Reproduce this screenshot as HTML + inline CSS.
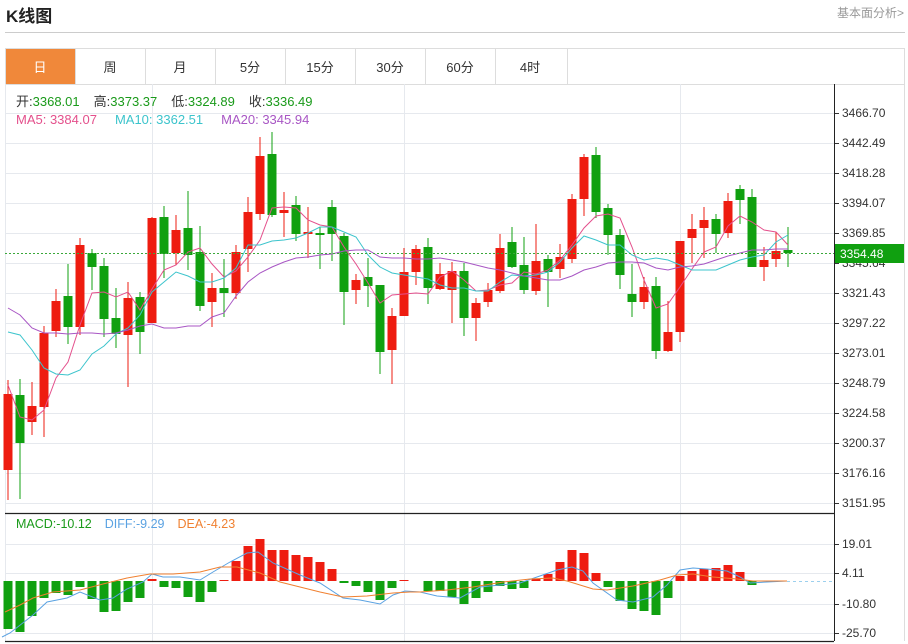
<!DOCTYPE html>
<html><head><meta charset="utf-8"><style>
body{margin:0;background:#fff;width:908px;height:644px;overflow:hidden;font-family:"Liberation Sans","Noto Sans CJK SC",sans-serif;}
.t{position:absolute;}
</style></head><body>
<div class="t" style="left:6px;top:2px;font-size:17px;font-weight:bold;color:#222;">K线图</div>
<div class="t" style="right:4px;top:4px;font-size:12px;color:#999;">基本面分析&gt;</div>
<div class="t" style="left:5px;top:32px;width:900px;height:1px;background:#ccc;"></div>
<svg id="s" width="908" height="644" style="position:absolute;left:0;top:0" xmlns="http://www.w3.org/2000/svg"></svg>
<script>
var S=document.getElementById('s'),h='';
function R(x,y,w,hh,f){h+='<rect x="'+x+'" y="'+y+'" width="'+w+'" height="'+hh+'" fill="'+f+'"/>';}
function L(x1,y1,x2,y2,c,w,d){h+='<line x1="'+x1+'" y1="'+y1+'" x2="'+x2+'" y2="'+y2+'" stroke="'+c+'" stroke-width="'+(w||1)+'"'+(d?' stroke-dasharray="'+d+'"':'')+'/>';}
function T(x,y,s,c,sz,a){h+='<text x="'+x+'" y="'+y+'" fill="'+c+'" font-size="'+(sz||12)+'"'+(a?' text-anchor="'+a+'"':'')+'>'+s+'</text>';}
R(5,48,900,36,'#fff');
h+='<rect x="5.5" y="48.5" width="899" height="36" fill="none" stroke="#ddd"/>';
R(6,49,69,35,'#f0883a');
var tabs=['日','周','月','5分','15分','30分','60分','4时'];
for(var i=0;i<8;i++){var x=5+70*i;if(i>0)L(x+0.5,49,x+0.5,84,'#ddd');T(x+35,72,tabs[i],i==0?'#fff':'#333',13,'middle');}
L(567.5,49,567.5,84,'#ddd');
var ys=[113,143,173,203,233,263,293,323,353,383,413,443,473,503];
var lab=['3466.70','3442.49','3418.28','3394.07','3369.85','3345.64','3321.43','3297.22','3273.01','3248.79','3224.58','3200.37','3176.16','3151.95'];
for(i=0;i<ys.length;i++){L(5,ys[i]+.5,834,ys[i]+.5,'#e6e9ee');L(834,ys[i]+.5,839,ys[i]+.5,'#333');T(842,ys[i]+4,lab[i],'#333',12);}
[152,404,680].forEach(function(x){L(x+.5,84,x+.5,641,'#e6e9ee');});
L(5.5,84,5.5,641,'#e6e9ee');
var my=[544,573,604,633],ml=['19.01','4.11','-10.80','-25.70'];
for(i=0;i<4;i++){L(5,my[i]+.5,834,my[i]+.5,'#e6e9ee');L(834,my[i]+.5,839,my[i]+.5,'#333');T(842,my[i]+4,ml[i],'#333',12);}
L(904.5,84,904.5,641,'#ddd');
var C=[['r',394,470,380,500],['g',395,443,379,499],['r',406,422,382,435],['r',333,407,326,437],['r',301,331,289,337],['g',296,327,264,344],['r',245,327,238,335],['g',253,267,249,290],['g',266,319,258,337],['g',318,334,288,348],['r',298,335,282,387],['g',297,332,292,354],['r',218,323,217,323],['g',217,254,206,278],['r',230,253,215,265],['g',228,255,191,270],['g',252,306,226,311],['r',288,302,273,327],['g',288,293,259,317],['r',252,293,245,299],['r',212,249,197,272],['r',156,214,137,220],['g',154,215,132,217],['r',210,213,192,237],['g',205,234,196,241],['r',232,234,207,258],['g',233,235,227,269],['g',207,234,200,261],['g',236,292,233,325],['r',280,290,274,304],['g',277,286,258,307],['g',285,352,285,374],['r',316,350,308,384],['r',272,316,248,316],['r',249,272,245,285],['g',247,288,238,304],['r',274,289,263,290],['r',271,290,262,323],['g',271,318,263,336],['r',303,318,298,341],['r',290,302,283,307],['r',248,291,234,293],['g',242,267,227,268],['g',265,290,237,294],['r',261,291,224,295],['g',259,272,255,307],['r',257,269,244,278],['r',199,259,194,263],['r',157,199,154,216],['g',155,212,147,218],['g',208,235,204,255],['g',235,275,229,289],['g',294,302,264,317],['r',287,302,277,309],['g',286,351,277,359],['r',332,351,301,352],['r',241,332,241,342],['r',229,238,214,263],['r',220,228,207,258],['g',219,234,214,253],['r',201,233,193,238],['g',189,200,185,224],['g',197,267,189,267],['r',260,267,247,281],['r',251,259,232,267],['g',250,253,227,267]];
var RC='#ee1c10',GC='#10a010';
for(i=0;i<C.length;i++){var c=C[i],x=8+12*i,col=c[0]=='r'?RC:GC;L(x,c[3],x,c[4],col,1);R(x-4.5,c[1],9,Math.max(2,c[2]-c[1]),col);}
function P(pts,c){var s='';for(var k=0;k<pts.length;k+=2)s+=(k?' ':'')+pts[k]+','+pts[k+1];h+='<polyline points="'+s+'" fill="none" stroke="'+c+'" stroke-width="1"/>';}
function MA(arr,c){var p=[];for(var k=0;k<arr.length;k++){p.push(8+12*k,arr[k]);}P(p,c);}
MA([385,417,420,410,378,362,325,293,292,297,292,310,289,270,265,252,248,264,277,271,257,240,208,207,208,220,225,227,247,264,283,303,295,294,293,294,277,271,280,291,290,285,283,272,274,270,260,245,228,216,214,218,247,280,308,304,287,269,252,247,226,216,222,230,232,245],'#e4508c');
MA([332,335,350,368,374,375,370,354,346,334,328,315,292,282,272,276,282,282,278,268,245,245,241,240,238,233,227,227,232,237,255,267,273,275,277,279,285,288,288,291,291,282,275,276,275,272,262,248,236,240,245,245,255,260,258,260,265,270,270,270,265,260,257,255,242,235],'#3cc4cc');
MA([308,315,328,333,333,334,333,333,334,333,330,326,324,328,328,326,326,317,313,296,282,273,267,262,258,257,255,254,251,250,250,257,258,258,259,259,258,260,262,265,268,270,273,276,278,280,280,276,270,267,263,262,262,263,268,270,267,266,264,260,256,253,250,250,249,249],'#a856c4');
L(5,253.5,834,253.5,'#3aa83a',1,'2,2');
R(835,244,69,19,'#10a010');T(840,258,'3354.48','#fff',12);
var M=[629,632,616,598,593,595,587,599,612,611,602,598,579,587,588,597,602,592,580,561,546,539,550,550,555,557,562,569,583,586,592,600,588,580,581,591,591,597,604,598,592,586,589,588,579,574,562,550,553,573,587,601,609,611,615,598,576,571,569,568,565,572,585];
for(i=0;i<M.length;i++){var x=8+12*i,v=M[i];if(v==581)continue;if(v<581)R(x-4.5,v,9,581-v,RC);else R(x-4.5,581,9,v-581,GC);}
P([2,637,10,633,33,615,47,602,67,598,80,592,100,600,113,598,127,589,143,582,152,574,163,577,180,577,200,580,213,572,230,562,247,553,258,552,273,563,300,575,320,583,343,598,360,600,380,604,393,595,405,591,420,592,437,596,460,598,480,587,500,585,520,583,537,577,557,570,572,567,583,571,593,583,617,600,633,602,653,597,667,585,680,570,693,568,707,569,727,571,740,577,750,583,767,582,787,581],'#5aa2e2');
P([5,612,20,605,33,598,53,592,80,590,103,584,127,578,150,574,173,574,200,572,220,567,237,567,260,573,280,582,300,587,320,592,343,597,367,596,393,593,410,592,420,592,447,590,473,587,503,582,530,579,553,578,567,581,593,589,607,590,633,586,660,580,677,575,693,574,713,577,737,579,753,581,787,581],'#f08030');
L(787,581.5,834,581.5,'#9cd0ee',1,'3,3');
L(5,513.5,834,513.5,'#222',1.2);L(5,641.5,834,641.5,'#222',1.2);L(834.5,84,834.5,641,'#222');
h+='<text x="16" y="106" font-size="13"><tspan fill="#333">开:</tspan><tspan fill="#1a9a1a">3368.01</tspan><tspan fill="#333" dx="14">高:</tspan><tspan fill="#1a9a1a">3373.37</tspan><tspan fill="#333" dx="14">低:</tspan><tspan fill="#1a9a1a">3324.89</tspan><tspan fill="#333" dx="14">收:</tspan><tspan fill="#1a9a1a">3336.49</tspan></text>';
h+='<text x="16" y="124" font-size="13"><tspan fill="#e4508c">MA5: 3384.07</tspan><tspan fill="#3cc4cc" dx="18">MA10: 3362.51</tspan><tspan fill="#a856c4" dx="18">MA20: 3345.94</tspan></text>';
h+='<text x="16" y="528" font-size="12.5"><tspan fill="#1a9a1a">MACD:-10.12</tspan><tspan fill="#5aa2e2" dx="13">DIFF:-9.29</tspan><tspan fill="#f08030" dx="13">DEA:-4.23</tspan></text>';
S.innerHTML=h;
</script>
</body></html>
